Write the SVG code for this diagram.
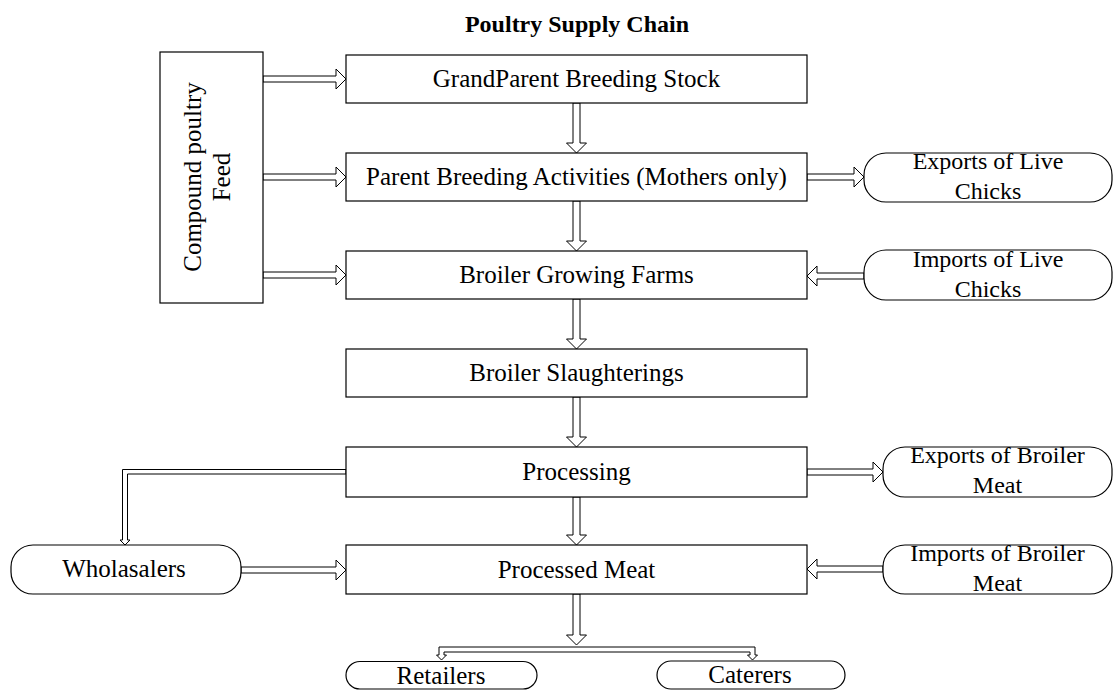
<svg xmlns="http://www.w3.org/2000/svg" width="1113" height="690" viewBox="0 0 1113 690">
<style>
.box{fill:#fff;stroke:#000;stroke-width:1.2}
.ov{fill:#fff;stroke:#000;stroke-width:1.2}
.t{font-family:"Liberation Serif","Times New Roman",serif;font-size:25px;fill:#000;text-anchor:middle}
.ot{font-family:"Liberation Serif","Times New Roman",serif;font-size:24px;fill:#000;text-anchor:middle}
.ttl{font-family:"Liberation Serif","Times New Roman",serif;font-size:24px;font-weight:bold;fill:#000;text-anchor:middle}
.arr{fill:#fff;stroke:#000;stroke-width:1;stroke-linejoin:miter}
</style>
<rect width="1113" height="690" fill="#fff"/>
<text class="ttl" x="577" y="32">Poultry Supply Chain</text>

<g id="connectors">
<polygon class="arr" points="263,76 336,76 336,69 346,79 336,89 336,82 263,82"/>
<polygon class="arr" points="263,174 336,174 336,167 346,177 336,187 336,180 263,180"/>
<polygon class="arr" points="263,272 336,272 336,265 346,275 336,285 336,278 263,278"/>
<polygon class="arr" points="807,174 854,174 854,167 864,177 854,187 854,180 807,180"/>
<polygon class="arr" points="864,273 817,273 817,266 807,276 817,286 817,279 864,279"/>
<polygon class="arr" points="807,469 873,469 873,462 883,472 873,482 873,475 807,475"/>
<polygon class="arr" points="883,566 817,566 817,559 807,569 817,579 817,572 883,572"/>
<polygon class="arr" points="241,567 336,567 336,560 346,570 336,580 336,573 241,573"/>
<polygon class="arr" points="573,103 580,103 580,143 586.5,143 576.5,153 566.5,143 573,143"/>
<polygon class="arr" points="573,201 580,201 580,241 586.5,241 576.5,251 566.5,241 573,241"/>
<polygon class="arr" points="573,299 580,299 580,339 586.5,339 576.5,349 566.5,339 573,339"/>
<polygon class="arr" points="573,397 580,397 580,437 586.5,437 576.5,447 566.5,437 573,437"/>
<polygon class="arr" points="573,497 580,497 580,535 586.5,535 576.5,545 566.5,535 573,535"/>
<polygon class="arr" points="573,594 580,594 580,635 586.5,635 576.5,645 566.5,635 573,635"/>
<polygon class="arr" points="346,469.5 122.5,469.5 122.5,540 120,540 125,545 130,540 127.5,540 127.5,474 346,474"/>
<polygon class="arr" points="439,647 755,647 755,655 757.5,655 752.5,660 747.5,655 750,655 750,652 444,652 444,655 446.5,655 441.5,660 436.5,655 439,655"/>
</g>

<g id="feed">
<rect class="box" x="160" y="52" width="103" height="251"/>
<g transform="translate(201,177) rotate(-90)">
<text class="t" x="0" y="0">Compound poultry</text>
<text class="t" x="0" y="29">Feed</text>
</g>
</g>

<g id="grandparent">
<rect class="box" x="346" y="55" width="461" height="48"/>
<text class="t" x="576.5" y="87">GrandParent Breeding Stock</text>
</g>
<g id="parent">
<rect class="box" x="346" y="153" width="461" height="48"/>
<text class="t" x="576.5" y="185">Parent Breeding Activities (Mothers only)</text>
</g>
<g id="growing">
<rect class="box" x="346" y="251" width="461" height="48"/>
<text class="t" x="576.5" y="283">Broiler Growing Farms</text>
</g>
<g id="slaughter">
<rect class="box" x="346" y="349" width="461" height="48"/>
<text class="t" x="576.5" y="381">Broiler Slaughterings</text>
</g>
<g id="processing">
<rect class="box" x="346" y="447" width="461" height="50"/>
<text class="t" x="576.5" y="480">Processing</text>
</g>
<g id="processed">
<rect class="box" x="346" y="545" width="461" height="49"/>
<text class="t" x="576.5" y="578">Processed Meat</text>
</g>

<g id="exportsLive">
<rect class="ov" x="864" y="153" width="248" height="49" rx="22" ry="22"/>
<text class="ot" x="988" y="169">Exports of Live</text>
<text class="ot" x="988" y="199">Chicks</text>
</g>
<g id="importsLive">
<rect class="ov" x="864" y="250" width="248" height="50" rx="22" ry="22"/>
<text class="ot" x="988" y="267">Imports of Live</text>
<text class="ot" x="988" y="297">Chicks</text>
</g>
<g id="exportsMeat">
<rect class="ov" x="883" y="447" width="229" height="50" rx="22" ry="22"/>
<text class="ot" x="997.5" y="463">Exports of Broiler</text>
<text class="ot" x="997.5" y="493">Meat</text>
</g>
<g id="importsMeat">
<rect class="ov" x="883" y="545" width="229" height="49" rx="22" ry="22"/>
<text class="ot" x="997.5" y="561">Imports of Broiler</text>
<text class="ot" x="997.5" y="591">Meat</text>
</g>
<g id="wholesalers">
<rect class="ov" x="11" y="545" width="230" height="49" rx="22" ry="22"/>
<text class="t" x="124" y="577">Wholasalers</text>
</g>
<g id="retailers">
<rect class="ov" x="346" y="661.5" width="191" height="27.5" rx="14" ry="13.75"/>
<text class="t" x="441" y="684">Retailers</text>
</g>
<g id="caterers">
<rect class="ov" x="657" y="661" width="188" height="28" rx="14" ry="14"/>
<text class="t" x="750" y="683">Caterers</text>
</g>
</svg>
